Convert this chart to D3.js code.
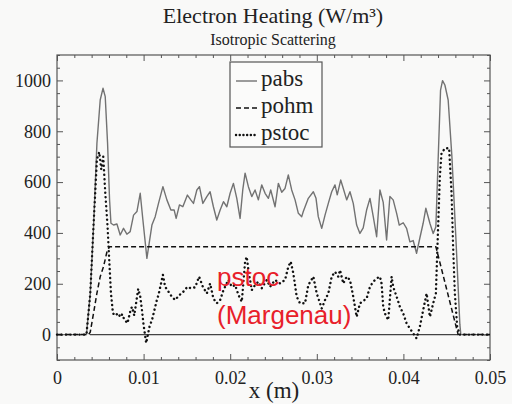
<!DOCTYPE html>
<html>
<head>
<meta charset="utf-8">
<script src="https://cdn.jsdelivr.net/npm/d3@7"></script>
<style>
  body { margin: 0; background: #f9f9f8; }
  svg { display: block; }
</style>
</head>
<body>
<div id="chart"></div>
<script>
// x (m), value (W/m^3)
var pabs = [[0,0],[0.0034,0],[0.00384,162],[0.00422,424],[0.00461,753],[0.00499,923],[0.00531,969],
  [0.00557,936],[0.00584,753],[0.00607,530],[0.00623,438],[0.00653,431],[0.00692,435],[0.0073,392],
  [0.00768,418],[0.00807,395],[0.00845,405],[0.00884,470],[0.00923,484],[0.00961,556],[0.00992,451],
  [0.01038,300],[0.01096,431],[0.01134,464],[0.01172,516],[0.01223,582],[0.01269,530],[0.01315,490],
  [0.01353,490],[0.01376,457],[0.01414,510],[0.01453,503],[0.01506,549],[0.01545,530],[0.01576,516],
  [0.01615,569],[0.01645,582],[0.01684,516],[0.0173,543],[0.01768,562],[0.01806,503],[0.01845,451],
  [0.01884,490],[0.01922,523],[0.01961,503],[0.01999,556],[0.02037,595],[0.02076,536],[0.02114,457],
  [0.02145,569],[0.02172,635],[0.0221,582],[0.02249,543],[0.02287,569],[0.02325,530],[0.02364,589],
  [0.02403,556],[0.02441,536],[0.02468,569],[0.02518,503],[0.02556,595],[0.02595,560],[0.02633,575],
  [0.02671,628],[0.0271,569],[0.02749,530],[0.02787,477],[0.02826,464],[0.02844,484],[0.02902,536],
  [0.0296,562],[0.02991,536],[0.03017,464],[0.03057,418],[0.03095,470],[0.03133,516],[0.03172,562],
  [0.0321,589],[0.03236,550],[0.03276,608],[0.03306,575],[0.03345,530],[0.03383,562],[0.03421,516],
  [0.0346,431],[0.03498,398],[0.03536,420],[0.03575,490],[0.03614,536],[0.03652,464],[0.03691,385],
  [0.03729,569],[0.03767,520],[0.03806,372],[0.03844,543],[0.03882,530],[0.03922,477],[0.03952,431],
  [0.03998,440],[0.04037,418],[0.04075,365],[0.04113,370],[0.04152,320],[0.0419,380],[0.04228,438],
  [0.04259,497],[0.04306,438],[0.04344,398],[0.04375,424],[0.04401,687],[0.04429,962],[0.04452,999],
  [0.04479,982],[0.04517,923],[0.0456,700],[0.04606,380],[0.04652,40],[0.04663,0],[0.05,0]];

var pohm = [[0,0],[0.00365,0],[0.00384,10],[0.00422,84],[0.00461,163],[0.00499,228],[0.00537,267],
  [0.00577,326],[0.00607,346],[0.04375,346],[0.04632,0],[0.05,0]];

var pstoc = [[0,0],[0.0034,0],[0.00384,160],[0.00422,430],[0.00461,690],[0.00488,718],[0.00511,650],
  [0.00534,700],[0.00557,560],[0.00584,424],[0.00607,267],[0.00623,163],[0.00646,84],[0.00672,75],
  [0.00707,84],[0.0073,69],[0.00753,80],[0.00776,60],[0.00814,45],[0.00845,90],[0.00865,109],
  [0.00892,75],[0.00938,180],[0.00961,150],[0.0098,100],[0.00999,40],[0.0103,-33],[0.01068,31],
  [0.01099,60],[0.01153,136],[0.01172,156],[0.01223,235],[0.01249,188],[0.01287,169],[0.01326,149],
  [0.01364,136],[0.01414,156],[0.01442,162],[0.01506,188],[0.01545,182],[0.01595,186],[0.01641,228],
  [0.01684,188],[0.0173,162],[0.01768,201],[0.01806,142],[0.01845,123],[0.01884,136],[0.01922,175],
  [0.01979,215],[0.02018,188],[0.02057,195],[0.02095,156],[0.02134,129],[0.02172,287],[0.02191,306],
  [0.0221,254],[0.02249,175],[0.02287,195],[0.02325,208],[0.02364,182],[0.02422,215],[0.0246,188],
  [0.02518,215],[0.02576,201],[0.02633,215],[0.02671,267],[0.02699,287],[0.02729,241],[0.02768,149],
  [0.02806,123],[0.02864,123],[0.02902,195],[0.0296,228],[0.02999,162],[0.03057,103],[0.03095,136],
  [0.03133,162],[0.03172,228],[0.0321,247],[0.03248,228],[0.03268,254],[0.03306,201],[0.03345,228],
  [0.03383,215],[0.03421,149],[0.0346,70],[0.03498,123],[0.03575,142],[0.03614,188],[0.03652,208],
  [0.03691,221],[0.03729,228],[0.03748,201],[0.03767,109],[0.03787,83],[0.03825,57],[0.03864,228],
  [0.03882,188],[0.03922,149],[0.0396,109],[0.03998,83],[0.04037,44],[0.04075,24],[0.04113,5],
  [0.04152,-15],[0.0419,31],[0.04228,96],[0.04268,162],[0.04306,70],[0.04344,123],[0.04375,162],
  [0.04401,424],[0.04421,621],[0.0444,713],[0.04479,733],[0.04528,733],[0.04556,556],[0.04574,346],
  [0.04594,162],[0.04621,31],[0.04652,0],[0.05,0]];

var zeroSpan = [0.0038, 0.0463];
var xMajor = [0, 0.01, 0.02, 0.03, 0.04, 0.05];
var xLabels = ["0", "0.01", "0.02", "0.03", "0.04", "0.05"];
var yMajor = [0, 200, 400, 600, 800, 1000];
var seriesNames = ["pabs", "pohm", "pstoc"];
var noteLines = ["pstoc", "(Margenau)"];

var W = 512, H = 404;
var serif = "'Liberation Serif', 'Times New Roman', serif";
var frameCol = "#555";

var svg = d3.select("#chart").append("svg").attr("width", W).attr("height", H);

var x = d3.scaleLinear().domain([0, 0.05]).range([57, 490]);
var y = d3.scaleLinear().domain([-100, 1100]).range([360, 55]);

var xMinor = d3.range(0, 0.0501, 0.002).filter(v => xMajor.every(m => Math.abs(m - v) > 1e-9));
var yMinor = d3.range(-100, 1101, 50).filter(v => v % 200 !== 0);

var styles = {
  pabs:  {stroke: "#727272", width: 1.4, dash: null, cap: "butt"},
  pohm:  {stroke: "#111", width: 1.5, dash: "5,3", cap: "butt"},
  pstoc: {stroke: "#111", width: 2.4, dash: "0.1,4.4", cap: "round"}
};

// frame
svg.append("rect")
  .attr("x", x(0)).attr("y", y(1100))
  .attr("width", x(0.05) - x(0)).attr("height", y(-100) - y(1100))
  .attr("fill", "none").attr("stroke", frameCol).attr("stroke-width", 1.2);

function axisStyle(g) {
  g.select(".domain").remove();
  g.selectAll("line").attr("stroke", frameCol).attr("stroke-width", 1);
  g.selectAll("text").attr("font-family", serif).attr("font-size", 18).attr("fill", "#222");
}

// bottom
svg.append("g").attr("transform", "translate(0," + y(-100) + ")")
  .call(d3.axisBottom(x).tickValues(xMajor).tickFormat((d, i) => xLabels[i]).tickSize(-6).tickPadding(11))
  .call(axisStyle);
svg.append("g").attr("transform", "translate(0," + y(-100) + ")")
  .call(d3.axisBottom(x).tickValues(xMinor).tickFormat("").tickSize(-3)).call(axisStyle);
// top
svg.append("g").attr("transform", "translate(0," + y(1100) + ")")
  .call(d3.axisTop(x).tickValues(xMajor).tickFormat("").tickSize(-6)).call(axisStyle);
svg.append("g").attr("transform", "translate(0," + y(1100) + ")")
  .call(d3.axisTop(x).tickValues(xMinor).tickFormat("").tickSize(-3)).call(axisStyle);
// left
svg.append("g").attr("transform", "translate(" + x(0) + ",0)")
  .call(d3.axisLeft(y).tickValues(yMajor).tickFormat(d3.format("d")).tickSize(-6).tickPadding(6))
  .call(axisStyle);
svg.append("g").attr("transform", "translate(" + x(0) + ",0)")
  .call(d3.axisLeft(y).tickValues(yMinor).tickFormat("").tickSize(-3)).call(axisStyle);
// right
svg.append("g").attr("transform", "translate(" + x(0.05) + ",0)")
  .call(d3.axisRight(y).tickValues(yMajor).tickFormat("").tickSize(-6)).call(axisStyle);
svg.append("g").attr("transform", "translate(" + x(0.05) + ",0)")
  .call(d3.axisRight(y).tickValues(yMinor).tickFormat("").tickSize(-3)).call(axisStyle);

// zero line
svg.append("line")
  .attr("x1", x(zeroSpan[0])).attr("x2", x(zeroSpan[1]))
  .attr("y1", y(0)).attr("y2", y(0))
  .attr("stroke", "#444").attr("stroke-width", 1.2);

var line = d3.line().x(d => x(d[0])).y(d => y(d[1]));
var data = {pabs: pabs, pohm: pohm, pstoc: pstoc};

seriesNames.forEach(function(name) {
  var s = styles[name];
  svg.append("path")
    .datum(data[name])
    .attr("d", line)
    .attr("fill", "none")
    .attr("stroke", s.stroke)
    .attr("stroke-width", s.width)
    .attr("stroke-dasharray", s.dash)
    .attr("stroke-linecap", s.cap)
    .attr("stroke-linejoin", "round");
});

// legend
var lg = svg.append("g");
lg.append("rect").attr("x", 230).attr("y", 62).attr("width", 92).attr("height", 85)
  .attr("fill", "#fbfbfa").attr("stroke", frameCol).attr("stroke-width", 1.2);
seriesNames.forEach(function(name, i) {
  var s = styles[name];
  var by = 86 + i * 27;
  lg.append("line").attr("x1", 236).attr("x2", 257).attr("y1", by - 5).attr("y2", by - 5)
    .attr("stroke", s.stroke).attr("stroke-width", s.width)
    .attr("stroke-dasharray", name === "pstoc" ? "0.1,3.6" : s.dash).attr("stroke-linecap", s.cap);
  lg.append("text").attr("x", 261).attr("y", by)
    .attr("font-family", serif).attr("font-size", 23).attr("fill", "#222").text(name);
});

// titles
svg.append("text").attr("x", 273).attr("y", 23).attr("text-anchor", "middle")
  .attr("font-family", serif).attr("font-size", 22).attr("fill", "#222")
  .text("Electron Heating (W/m³)");
svg.append("text").attr("x", 273).attr("y", 45).attr("text-anchor", "middle")
  .attr("font-family", serif).attr("font-size", 16).attr("fill", "#222")
  .text("Isotropic Scattering");
svg.append("text").attr("x", 274).attr("y", 398).attr("text-anchor", "middle")
  .attr("font-family", serif).attr("font-size", 23).attr("fill", "#222")
  .text("x (m)");

// red annotation
svg.selectAll(".note").data(noteLines).enter().append("text")
  .attr("class", "note")
  .attr("x", 217).attr("y", (d, i) => 286 + i * 38)
  .attr("font-family", "'Liberation Sans', Arial, sans-serif").attr("font-size", 26)
  .attr("fill", "#e8202a").text(d => d);
</script>
</body>
</html>
